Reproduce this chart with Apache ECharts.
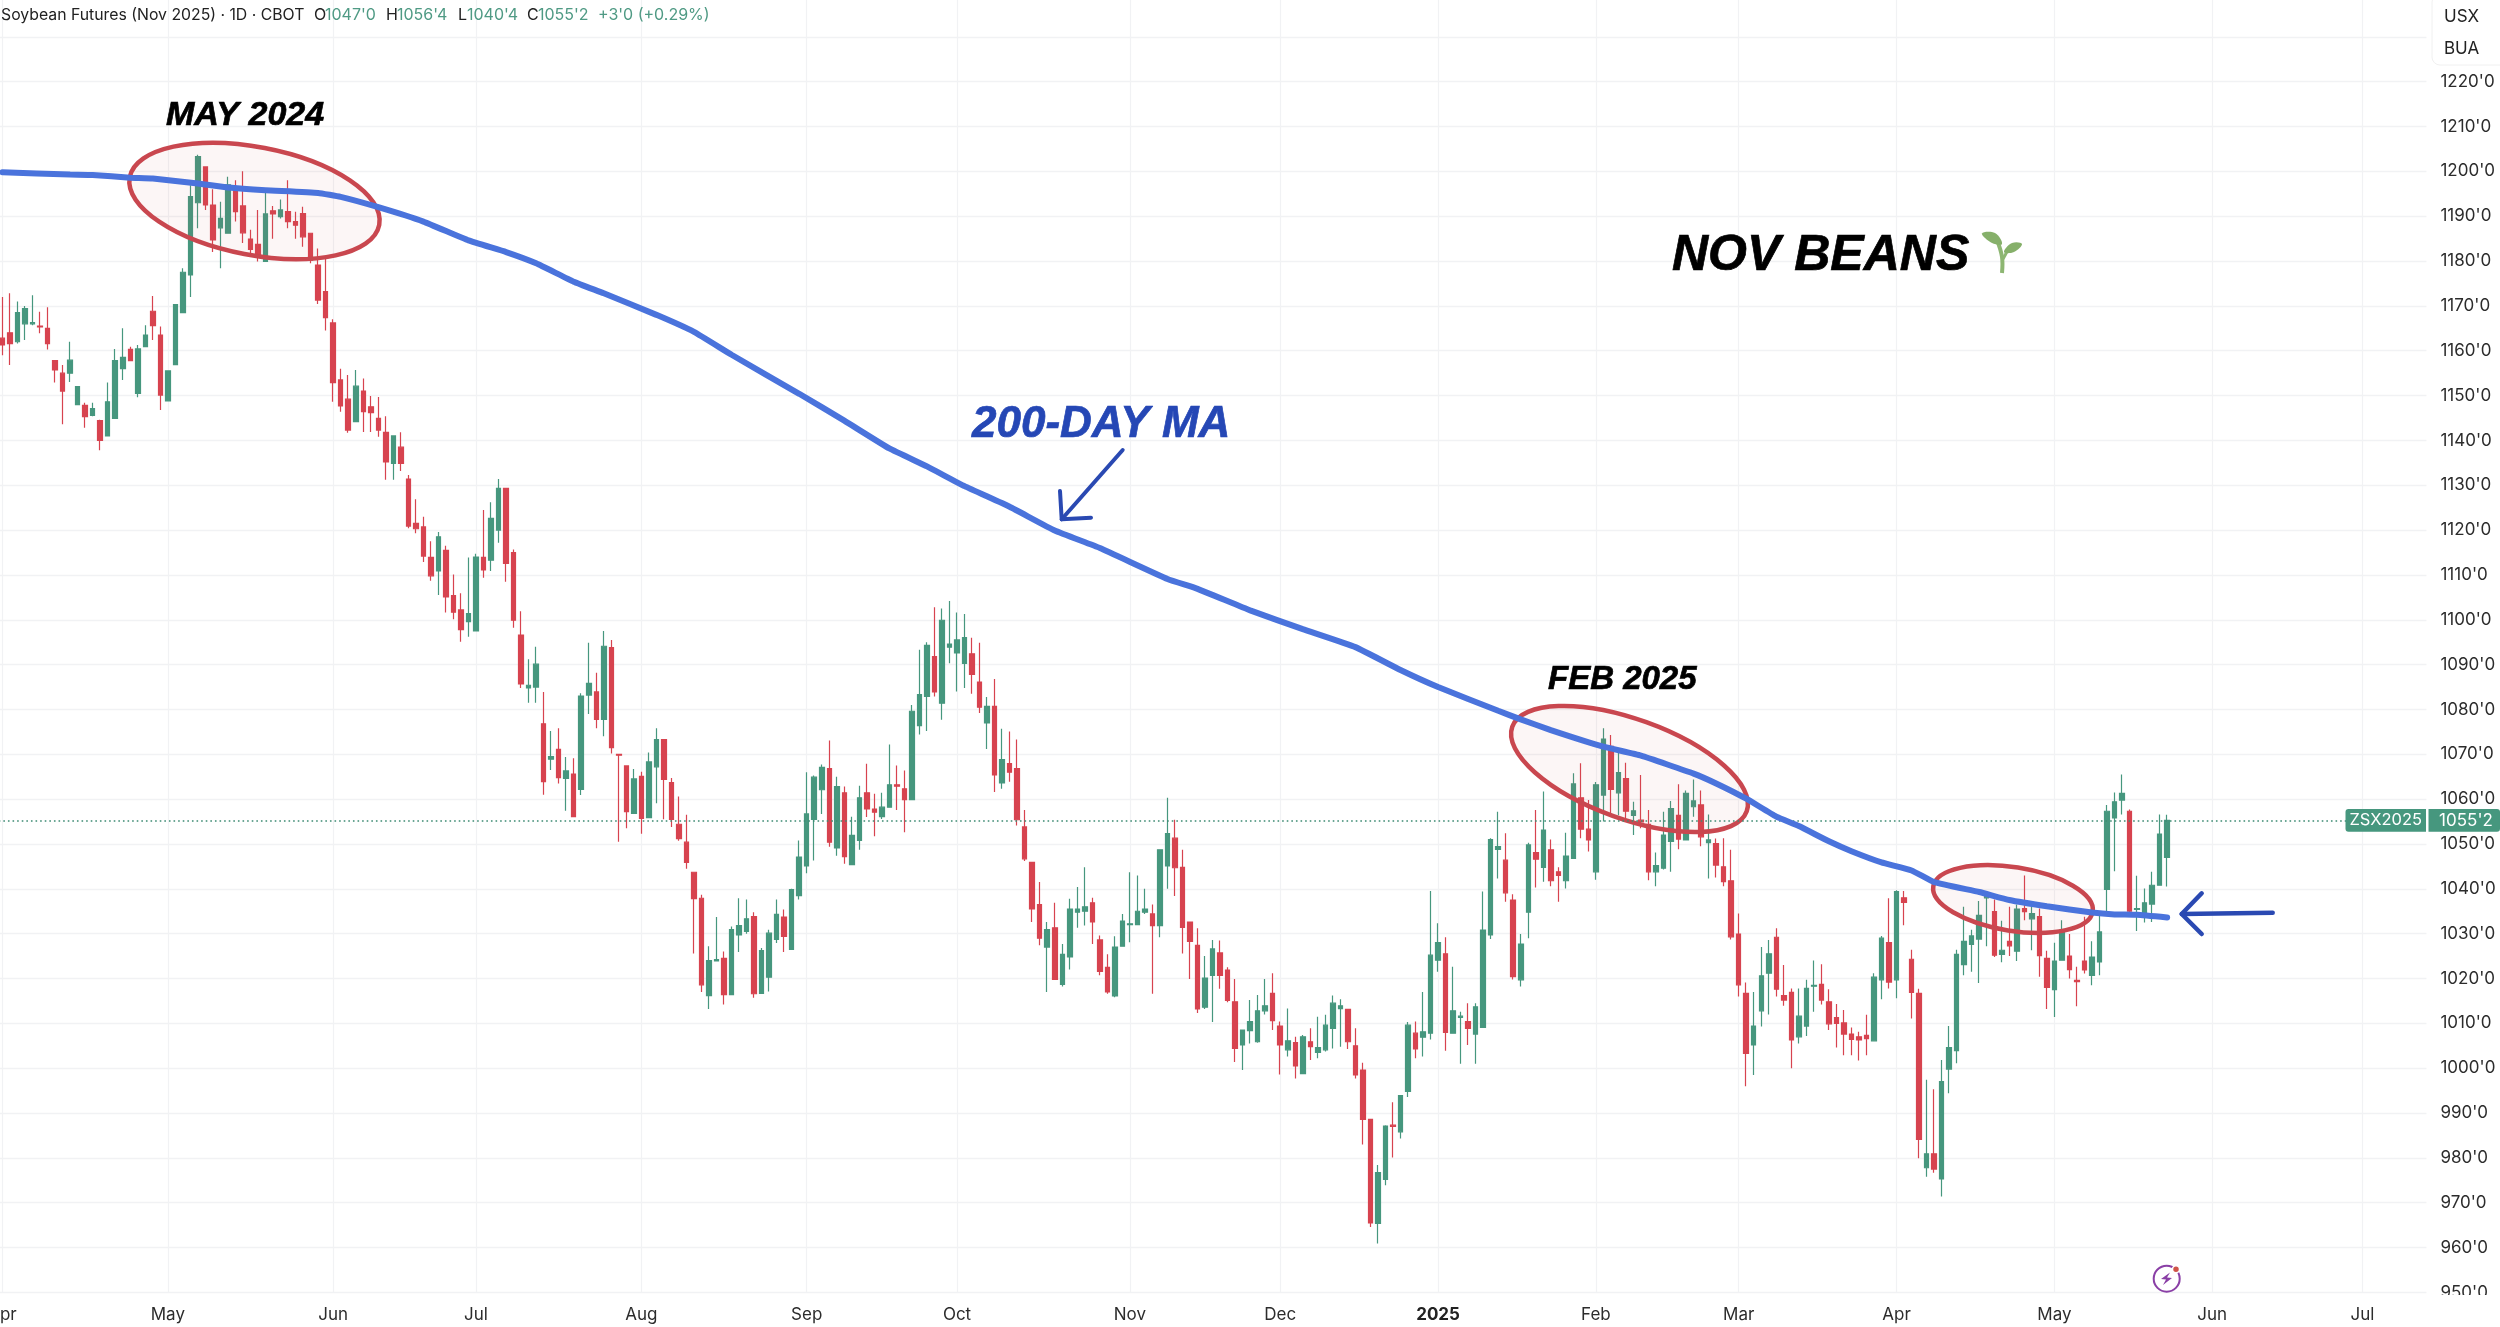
<!DOCTYPE html>
<html><head><meta charset="utf-8">
<style>html,body{margin:0;padding:0;background:#fff}#c{width:2500px;height:1327px}</style>
<script src="https://cdn.jsdelivr.net/npm/echarts@6/dist/echarts.min.js"></script>
</head><body><div id="c"></div>
<script>
// Each bar: [open, close, low, high]
const barsApr24=[[1162.8,1161.3,1159,1172],[1164,1161.6,1156.8,1172.8],[1162,1168.5,1161.6,1171],[1166,1169.4,1162.4,1170],[1166,1166.3,1165.7,1172.4],[1165.5,1165.3,1163.9,1168.7],[1165,1161.6,1160.3,1169.7],[1157.8,1155.7,1152.9,1157.8],[1155,1151,1143.6,1156.8],[1155,1157.9,1153,1162],[1148,1152,1148,1152],[1147.8,1145.3,1142.8,1148.4],[1145.6,1147.1,1145.4,1148.4],[1144.4,1140,1137.8,1144.6],[1141,1148.6,1141,1152.9],[1144.9,1157.8,1144.9,1160.4],[1156,1158.5,1153.5,1165],[1160.3,1157.8,1157.8,1160.9],[1150.5,1160.4,1149.6,1161.3],[1160.9,1163.5,1160.9,1165.7],[1168.8,1165.6,1162.4,1172.2],[1163.5,1150.1,1146.8,1165.4]];
const barsMay24=[[1148.8,1155.5,1148.8,1155.5],[1156.9,1170.3,1156.9,1170.3],[1168.5,1177.5,1168.5,1178.4],[1176.9,1194.4,1172,1196.9],[1193,1203.3,1187.3,1203.7],[1201,1192.5,1191.4,1201],[1192.5,1184.7,1182,1196],[1187.4,1189.5,1178.4,1193.2],[1186.2,1197,1186.2,1198.8],[1196.6,1191,1188.8,1198],[1192.3,1186.3,1184,1200],[1184.9,1182.6,1181.7,1187],[1183.7,1181,1179.9,1191.4],[1179.9,1190.5,1179.9,1195.2],[1191.2,1190.5,1185,1192.3],[1189.9,1191.4,1189.5,1193.7],[1191,1188.8,1187.3,1198],[1188.8,1188,1185,1191],[1190.6,1185.4,1183.2,1192.1],[1186.2,1180.2,1179.5,1186.2],[1179.1,1171.3,1170.4,1182.8],[1173.2,1167.4,1164.5,1180.6]];
const barsJun24=[[1166.2,1152.9,1148.6,1167],[1153.5,1147.7,1146.4,1156],[1149.2,1142.3,1141.7,1154.6],[1144.2,1152.1,1144.2,1155.7],[1151,1146.4,1141.9,1153.8],[1147.5,1146.2,1141.9,1149.9],[1144.9,1142.3,1140.8,1149.7],[1141.8,1135.2,1131.2,1145.4],[1134.9,1141,1131.2,1141],[1138.5,1134.9,1133.2,1141.8],[1131.4,1120.9,1120.4,1132.3],[1121.5,1120.3,1119.3,1126.9],[1120.7,1114.2,1112.9,1123],[1113.9,1109.8,1108.7,1117.5],[1110.9,1118.5,1105.5,1119.6],[1115.5,1105.1,1101.6,1116.5],[1105.4,1101.7,1100.1,1110.1],[1102.2,1097.8,1095.1,1105.9],[1099.6,1101.4,1096.2,1113.9]];
const barsJul24=[[1097.5,1114,1097.5,1114.7],[1113.9,1111.1,1109.4,1124.5],[1113.3,1122.6,1110.9,1126.2],[1120,1129.3,1117.2,1131.4],[1129.3,1112.6,1108.5,1129.3],[1115,1099.9,1098.2,1115.7],[1096.6,1085.7,1084.8,1101.9],[1084.8,1085.4,1081.5,1091.2],[1085,1090.1,1081.5,1094],[1076.8,1063.9,1061,1083.9],[1068.9,1069.5,1066.5,1075.2],[1071.1,1064.8,1063.5,1075.8],[1064.6,1066.3,1057.4,1069.4],[1065.6,1056.1,1056.1,1069.1],[1062.2,1083,1060.9,1083.6],[1083.2,1085.8,1079,1094.9],[1083.9,1077.8,1075.8,1088.2],[1077.8,1094.1,1074,1097.5],[1093.8,1071.5,1070.2,1095.5],[1070,1069.8,1050.5,1070],[1067.4,1057.2,1053.5,1067.4],[1056.8,1064.5,1056.8,1066.7]];
const barsAug24=[[1065.1,1055.7,1052.3,1066.1],[1055.9,1068.3,1055.9,1070.4],[1067.2,1073.3,1059.1,1075.8],[1073.3,1064.4,1055.5,1073.3],[1063.7,1055.5,1053.8,1064.7],[1054.4,1051.2,1050.7,1060.6],[1050.4,1045.9,1044.5,1056.5],[1043.7,1037.8,1025.6,1043.7],[1037.9,1018.6,1017,1038.7],[1016.2,1024,1013.2,1027.2],[1023.9,1024.2,1023.9,1033.7],[1024.5,1016.4,1014.2,1026],[1016.4,1030.9,1016.4,1031.6],[1029.7,1031.8,1025.9,1037.9],[1030.5,1033.3,1030,1037.6],[1033.8,1016.6,1015.7,1034.8],[1016.7,1026.2,1016.7,1026.8],[1020.3,1030.1,1017.1,1030.9],[1028.7,1034.3,1027.9,1037.6],[1033.7,1029.4,1025.9,1035.4],[1026.5,1039.8,1026.5,1040],[1038.5,1047.1,1037.6,1050.8]];
const barsSep24=[[1045.1,1056.7,1043.5,1066],[1055.5,1064.9,1046.3,1065.3],[1062.1,1067.1,1056.7,1067.7],[1066.8,1050.4,1049.4,1073.1],[1049.1,1062.8,1047.4,1065],[1061.4,1047.2,1045.6,1062.8],[1045.4,1051.9,1045.4,1056.1],[1050.8,1060.3,1048.7,1063],[1061.4,1057.8,1056,1067.9],[1057.8,1057.1,1051.7,1061.2],[1056.1,1058.2,1055.6,1061.4],[1058.2,1063.2,1058.2,1072.2],[1063.2,1062.9,1057.6,1067.5],[1062.3,1059.9,1052.6,1066.4],[1059.9,1079.6,1059.9,1081],[1076.4,1083.3,1074.4,1093.3],[1082.9,1094.3,1075.2,1095],[1091.8,1083.9,1082.9,1102.8],[1081.4,1099.9,1077.7,1102.5],[1093.9,1094.6,1090.3,1104.2]];
const barsOct24=[[1092.6,1095.5,1084,1101.6],[1090.3,1096,1084.8,1101.3],[1092.4,1087.8,1083.5,1096],[1086.1,1080.5,1079.2,1094.9],[1077,1080.7,1071.2,1082.8],[1080.7,1065.4,1061.6,1086.8],[1063.6,1068.8,1062.3,1075.7],[1067.9,1066,1063.9,1075.1],[1066.8,1055.4,1054.1,1073.3],[1053.8,1046.7,1046.2,1057.6],[1045.9,1035.5,1032.6,1045.9],[1036.5,1029,1027.4,1041.5],[1027,1030.9,1017,1032.6],[1031.3,1019.8,1019.8,1036.9],[1018.7,1025.4,1018.2,1027.7],[1024.8,1035.5,1022,1037.8],[1034.8,1035.5,1031.3,1040.4],[1035,1036,1031.8,1044.8],[1036.9,1032.6,1027.7,1038],[1028.6,1021.6,1020.7,1029.6],[1022.5,1017,1016.6,1025.4],[1016.1,1027,1015.8,1029.4],[1027.2,1032.8,1027.2,1034.4]];
const barsNov24=[[1032,1032.2,1028.1,1043.7],[1032,1035,1032,1043],[1034.8,1035.5,1034.4,1040],[1034.4,1031.8,1016.6,1036.5],[1031.8,1048.7,1029.2,1048.7],[1045.1,1052.3,1040,1060.3],[1051.3,1044.7,1038.4,1055.4],[1044.8,1031.4,1025.6,1048.7],[1032.6,1028.3,1019.9,1032.6],[1027.4,1013.2,1012.3,1031.2],[1013.6,1020.1,1013.2,1025],[1020.7,1026.6,1010.3,1028.6],[1025.7,1020.7,1017.7,1028.5],[1021.9,1015.1,1014.7,1022.5],[1014.8,1004.4,1001.4,1019.9],[1005.2,1008.5,999.6,1008.5],[1008.4,1010.4,1005.5,1015.2],[1005.9,1012.8,1005.7,1016.3],[1012.8,1013.9,1012,1019.9],[1016.7,1010.6,1008.5,1021.2]];
const barsDec24=[[1009.4,1005.2,998.6,1010.4],[1004.1,1006.1,1002.6,1013.3],[1005.7,1000.5,997.7,1007],[998.8,1007,998.8,1007.4],[1005.9,1004.8,1001.8,1008.9],[1003.5,1004.6,1002.2,1011.5],[1004.1,1009.6,1003.7,1011.9],[1008.9,1014.5,1004.4,1016.2],[1013.3,1013.9,1004.8,1015.4],[1013.1,1005.9,1004.3,1013.1],[1005,998.5,997.7,1008.9],[999.6,988.6,983,1001.2],[988.6,965.5,964.6,988.6],[965.4,976.7,960.9,978.4],[975.2,987.1,973.9,987.3],[987.3,987,980.1,992.4],[985.8,993.9,984.3,993.9],[994.8,1009.6,993.6,1010.3],[1007.8,1004.3,1002.2,1010.4],[1006.9,1008.1,1002.6,1017],[1007.8,1025.2,1006.4,1039.5]];
const barsJan25=[[1024.1,1028,1021.5,1032.3],[1025.5,1008,1003.9,1029.2],[1007.8,1012.8,1007.8,1022.6],[1011.3,1011.6,1001,1012.6],[1010.4,1008.9,1005.2,1014.5],[1007.6,1013.7,1001,1014.5],[1009.1,1030.8,1009.1,1039.4],[1029.7,1051,1028.8,1051.3],[1048.8,1049.4,1042.3,1057.2],[1046.4,1039.1,1037.1,1052.4],[1037.5,1020.4,1019.8,1038.8],[1019.7,1027.7,1018.2,1029.9],[1034.8,1049.8,1029,1050.3],[1048.1,1046.6,1040.3,1057.6],[1044.8,1053.1,1041.6,1061.7],[1048.7,1041.8,1040.6,1051],[1043.8,1043,1037.1,1044.8],[1041.8,1047.3,1040.1,1052.5],[1046.8,1063.4,1046.8,1065.8],[1060.3,1053.3,1051.3,1068],[1053.3,1050.9,1048.3,1059.8]];
const barsFeb25=[[1043.8,1063.2,1042,1063.8],[1060.9,1073.4,1055,1075.8],[1071.8,1062.2,1056.8,1074.3],[1061.4,1065.9,1056.4,1070.6],[1064.6,1057.3,1055.7,1068.1],[1056.4,1057.4,1052,1059.4],[1055.3,1054.9,1053.5,1065.4],[1054.4,1043.8,1041.9,1057.6],[1043.8,1045.2,1040.6,1048.1],[1044.6,1052,1044.3,1057.2],[1050.6,1057.9,1043.8,1059.6],[1056.4,1051.1,1048.8,1063.3],[1050.9,1061.3,1050.9,1061.9],[1058.3,1059.6,1056.1,1064.4],[1058.7,1051.6,1049.5,1061.9],[1050.3,1050.9,1042.3,1056.6],[1050.1,1045.3,1042.5,1051.2],[1044.9,1041.6,1040.6,1051.3],[1041.8,1029.3,1028.7,1048.7]];
const barsMar25=[[1029.9,1018.6,1016,1034.5],[1016.7,1003.3,996,1019.1],[1005.2,1009.4,998.5,1017],[1012.8,1020.6,1009.3,1027],[1021.2,1025.5,1012,1028.6],[1029.2,1017.6,1016,1031.2],[1016.2,1015.2,1013.9,1023],[1016.9,1006.3,1000,1017.8],[1007,1011.6,1005.5,1017.8],[1009.4,1017.8,1007.2,1019.7],[1018.3,1018.5,1012.6,1024],[1018.7,1015.2,1014.2,1023.2],[1014.8,1009.9,1008.5,1017.6],[1011.3,1010,1004.6,1014.3],[1010.1,1007.6,1002.9,1013],[1007.6,1006.4,1002.9,1009.1],[1007,1006.3,1001.7,1008.1],[1007.3,1006.6,1002.9,1011.9],[1006.1,1020.3,1006.1,1021.2],[1019.7,1029,1015.4,1029.5],[1028,1019.2,1017.8,1037.9]];
const barsApr25=[[1019.7,1039.4,1015.6,1039.7],[1038,1037,1031.9,1039.5],[1024.3,1016.9,1011.1,1026.4],[1016.7,984.1,979.9,1017.7],[977.8,980.9,975.8,997.4],[980.9,977.5,976.7,995.3],[975.3,997,971.4,1001.8],[999.8,1004.6,994.4,1009.4],[1003.9,1025.4,1001.1,1026.4],[1023.1,1028.3,1020.7,1036],[1027.6,1029.5,1021.5,1030.9],[1028.8,1034.1,1019,1037.3],[1038,1038.5,1027.2,1039.3],[1034.9,1025.2,1024.8,1037.6],[1025.4,1026.3,1023.6,1032.9],[1028.3,1027.3,1025,1036],[1026.1,1035.5,1023.9,1036.5],[1035.6,1034.9,1033,1043],[1033.3,1034.5,1026.3,1036],[1033.8,1025.1,1020.4,1035.6],[1024.5,1018,1013.2,1026.2]];
const barsMay25=[[1017.5,1023.9,1011.4,1028],[1024.1,1030.8,1024.1,1033],[1025,1022,1020,1029.9],[1019.6,1019.3,1013.8,1022.6],[1023.9,1021.9,1021.1,1033.8],[1020.7,1024.8,1018.5,1028.3],[1023.7,1030.4,1020.7,1034.1],[1039.9,1057.3,1034.5,1058.7],[1055.8,1059.4,1043.9,1061.5],[1059.8,1061.3,1056.6,1065.5],[1057.3,1035,1033.8,1057.7],[1035.4,1035.6,1030.6,1042.9],[1034.5,1036.9,1032.5,1040.1],[1036.6,1040.8,1032.6,1043.8],[1040.8,1052.2,1040.8,1056.6],[1047,1055.25,1040.5,1056.5]];
const bars=[].concat(barsApr24,barsMay24,barsJun24,barsJul24,barsAug24,barsSep24,barsOct24,barsNov24,barsDec24,barsJan25,barsFeb25,barsMar25,barsApr25,barsMay25);

// 200-day moving average: [bar number, price]
const ma200=[[0,1199.8],[9,1199.3],[12,1199.2],[17,1198.6],[20,1198.4],[26,1197.3],[30,1196.4],[35,1195.8],[42,1195.2],[45,1194.3],[50,1192],[56,1188.8],[62,1184.6],[67,1182],[71,1179.5],[76,1175.4],[80,1172.8],[87,1168],[92,1164.2],[97,1159.1],[106,1150.4],[112,1144.4],[118,1138.2],[123,1134.2],[128,1129.8],[134,1125.2],[140,1119.9],[146,1116],[155,1109.1],[159,1106.9],[166,1102.1],[173,1097.9],[180,1093.9],[186,1088.8],[191,1085],[199,1079.7],[202,1077.8],[206,1075.4],[213,1071.7],[218,1069.7],[225,1065.7],[228,1063.5],[232,1060.1],[236,1056.1],[239,1054],[243,1050.6],[246,1048.4],[250,1045.9],[254,1044.1],[257,1041.5],[263,1039.3],[267,1037.5],[272,1036.1],[278,1034.7],[281,1034.3],[284,1034.2],[288,1033.6]];

const monthLabels=['Apr','May','Jun','Jul','Aug','Sep','Oct','Nov','Dec','2025','Feb','Mar','Apr','May','Jun','Jul'];
const monthBars=[0,22,44,63,85,107,127,150,170,191,212,231,252,273,294,314];
const barSlots=323;
const lastPrice=1055.25;
const topLabelPrice=1220;

const categories=[];
for(let i=0;i<barSlots;i++){const m=monthBars.indexOf(i);categories.push(m>=0?monthLabels[m]:'');}
const isMonth=i=>monthBars.indexOf(i)>=0;

const UP='#46977e',DOWN='#d7434f',GRID='#f1f2f4',RING='#c9474f',INK='#2547b5',QUOTE='#4f9a84';
const hand={stroke:'#2a49b2',lineWidth:4,lineCap:'round',lineJoin:'round',fill:'none'};
function ring(cx,cy,a,b,deg){return {type:'ellipse',z:3,x:cx,y:cy,rotation:-deg*Math.PI/180,shape:{cx:0,cy:0,rx:a,ry:b},style:{fill:'rgba(205,90,90,0.055)',stroke:RING,lineWidth:4.5}};}
function note(text,x,y,size,color){return {type:'text',z:20,x:x,y:y,style:{text:text,font:'italic bold '+size+'px "Liberation Sans"',fill:color,stroke:color,lineWidth:0.7,textVerticalAlign:'middle'}};}
function head(text,x,color,size){return {type:'text',z:20,x:x,y:15,style:{text:text,font:size+'px Inter',fill:color,textVerticalAlign:'middle'}};}

const chart=echarts.init(document.getElementById('c'),null,{renderer:'canvas'});
chart.setOption({
  animation:false,backgroundColor:'#fff',
  grid:{left:-1.26,top:-8,width:2427.7,height:1300.4,outerBoundsMode:'none',containLabel:false},
  xAxis:{type:'category',data:categories,boundaryGap:true,
    axisLine:{show:false},axisTick:{show:false},
    axisLabel:{interval:(i)=>isMonth(i),margin:14,fontFamily:'Inter',fontSize:17,color:'#2c2c2c',hideOverlap:false,
      formatter:(v)=>v==='2025'?'{b|2025}':v,rich:{b:{fontFamily:'Inter',fontSize:17,fontWeight:'bold',color:'#222'}}},
    splitLine:{show:true,interval:(i)=>isMonth(i),alignWithLabel:true,lineStyle:{color:GRID,width:1.2}}},
  yAxis:{type:'value',position:'right',min:950,max:1240,interval:10,scale:true,
    axisLine:{show:false},axisTick:{show:false},
    axisLabel:{margin:14,padding:[3,0,0,0],fontFamily:'Inter',fontSize:17,color:'#2c2c2c',formatter:(v)=>v>topLabelPrice?'':v+"'0"},
    splitLine:{show:true,lineStyle:{color:GRID,width:1.4}}},
  series:[
    {type:'candlestick',name:'ZSX2025',data:bars,z:2,barWidth:5,
      itemStyle:{color:UP,color0:DOWN,borderColor:UP,borderColor0:DOWN,borderWidth:1.2},
      markLine:{silent:true,symbol:'none',animation:false,label:{show:false},
        lineStyle:{type:[1.6,3],color:'#3d8a73',width:1.6},data:[{yAxis:lastPrice}]}},
    {type:'line',name:'200-day MA',data:ma200,z:6,symbol:'none',smooth:0.12,
      lineStyle:{color:'#4a73dc',width:6,cap:'round'}}
  ],
  graphic:{elements:[
    ring(254.5,201,127,54,10.8),
    ring(1629.5,769,124.6,49.7,19.8),
    ring(2013,899,80.7,31.8,9),
    note('MAY 2024',166,116,34,'#000'),
    note('FEB 2025',1548,679.5,33,'#000'),
    note('NOV BEANS',1672,256,50,'#000'),
    note('200-DAY MA',972,424.5,44,INK),
    // seedling
    {type:'polyline',z:20,shape:{points:[[2002,273],[2002,257],[1997,240]],smooth:0.4},style:{stroke:'#8db672',lineWidth:4,fill:'none'}},
    {type:'polyline',z:20,shape:{points:[[2003,259],[2009,248]]},style:{stroke:'#8db672',lineWidth:3,fill:'none'}},
    {type:'polygon',z:20,shape:{points:[[1982,233.5],[1995,233],[2002,244],[1992,243]],smooth:0.4},style:{fill:'#86b06a'}},
    {type:'polygon',z:20,shape:{points:[[2022,244],[2012,243],[2004,252],[2014,252]],smooth:0.4},style:{fill:'#86b06a'}},
    // hand-drawn arrows
    {type:'polyline',z:20,shape:{points:[[1122.7,450],[1061.7,519.3]]},style:hand},
    {type:'polyline',z:20,shape:{points:[[1060,491],[1061.7,519.3],[1091,517.7]]},style:hand},
    {type:'polyline',z:20,shape:{points:[[2272.7,912.7],[2181.7,914]]},style:Object.assign({},hand,{lineWidth:4.5})},
    {type:'polyline',z:20,shape:{points:[[2201.7,893.3],[2181.7,914],[2201.7,934]]},style:Object.assign({},hand,{lineWidth:4.5})},
    // header
    head('Soybean Futures (Nov 2025) · 1D · CBOT',1,'#222',15.8),
    head('O',314,'#222',16),head("1047'0",325,QUOTE,16),
    head('H',386,'#222',16),head("1056'4",397,QUOTE,16),
    head('L',458,'#222',16),head("1040'4",467,QUOTE,16),
    head('C',527,'#222',16),head("1055'2",538,QUOTE,16),
    head("+3'0 (+0.29%)",598,QUOTE,16),
    // unit box
    {type:'rect',z:30,shape:{x:2432,y:-6,width:76,height:71,r:8},style:{fill:'#fff',stroke:'#f0f0f0',lineWidth:1}},
    {type:'text',z:31,x:2444,y:17,style:{text:'USX',font:'17px Inter',fill:'#222',textVerticalAlign:'middle'}},
    {type:'text',z:31,x:2444,y:49,style:{text:'BUA',font:'17px Inter',fill:'#222',textVerticalAlign:'middle'}},
    // last-price tags
    {type:'rect',z:30,shape:{x:2345.5,y:809,width:80.5,height:22.7,r:[3,0,0,3]},style:{fill:UP}},
    {type:'rect',z:30,shape:{x:2428.5,y:809,width:71.5,height:22.7,r:[0,3,3,0]},style:{fill:UP}},
    {type:'text',z:31,x:2385.7,y:820.5,style:{text:'ZSX2025',font:'16.5px Inter',fill:'#fff',textAlign:'center',textVerticalAlign:'middle'}},
    {type:'text',z:31,x:2466,y:820.5,style:{text:"1055'2",font:'17px Inter',fill:'#fff',textAlign:'center',textVerticalAlign:'middle'}},
    // clips the lowest price label
    {type:'rect',z:30,shape:{x:2428,y:1295,width:72,height:32},style:{fill:'#fff'}},
    // flash icon
    {type:'circle',z:20,shape:{cx:2166.7,cy:1278.7,r:13},style:{fill:'none',stroke:'#8a3fa6',lineWidth:2}},
    {type:'polygon',z:21,shape:{points:[[2170,1272.5],[2161,1279],[2166,1279.5],[2163,1285],[2172,1278],[2167,1277.5]]},style:{fill:'#8a3fa6'}},
    {type:'circle',z:21,shape:{cx:2176,cy:1269.3,r:3.5},style:{fill:'#cf5348',stroke:'#fff',lineWidth:1.5}}
  ]}
});
</script></body></html>
